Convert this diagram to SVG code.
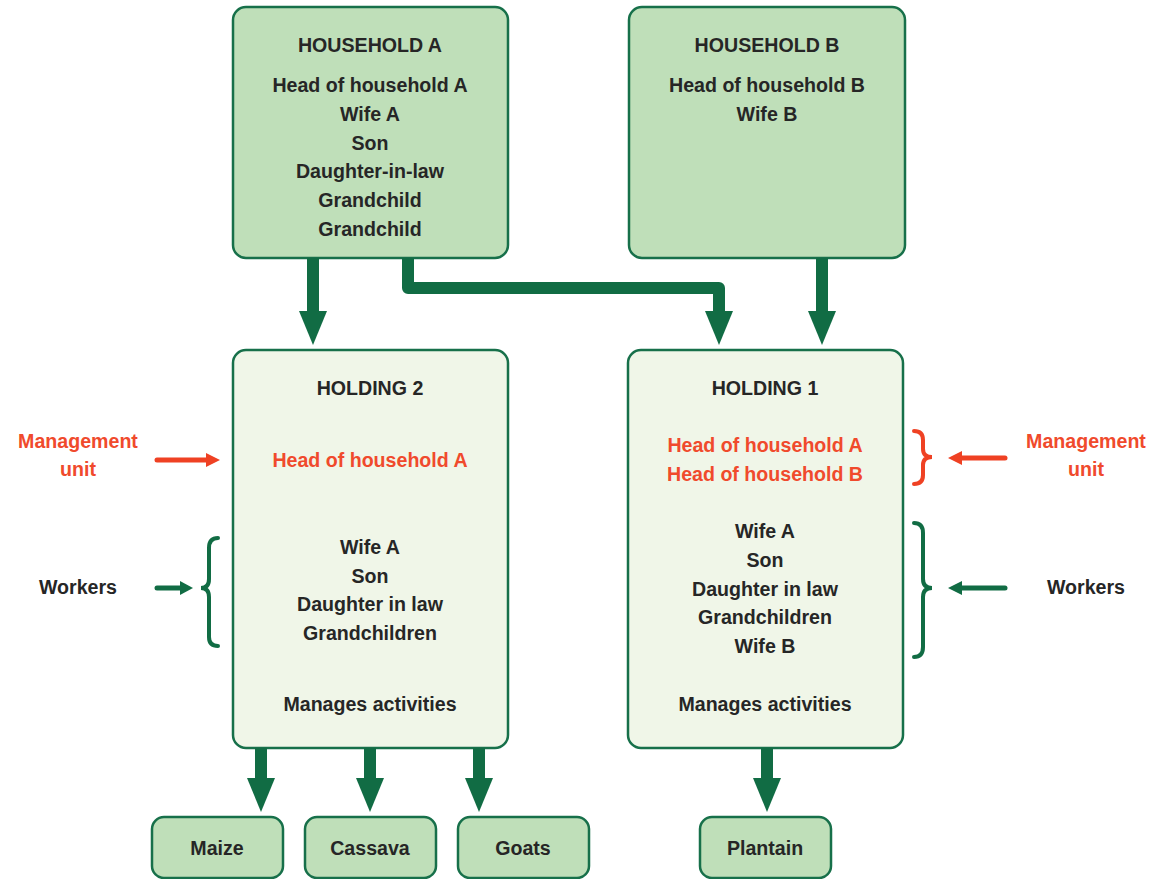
<svg xmlns="http://www.w3.org/2000/svg" width="1159" height="879" viewBox="0 0 1159 879">
<style>
.hh{fill:#bfdfb9;stroke:#17704a;stroke-width:2.5}
.hd{fill:#f0f6e8;stroke:#17704a;stroke-width:2.5}
text{font-family:"Liberation Sans",Arial,sans-serif;font-weight:bold;font-size:19.6px;text-anchor:middle;fill:#262626}
text.r{fill:#f04a2c}
.arr{fill:#116c44}
.shaft{stroke:#116c44;stroke-width:12;fill:none}
.gl{stroke:#116c44;stroke-width:5;fill:none;stroke-linecap:round}
.rl{stroke:#ef4123;stroke-width:5;fill:none;stroke-linecap:round}
.gb{stroke:#116c44;stroke-width:4;fill:none;stroke-linecap:round}
.rb{stroke:#ef4123;stroke-width:4;fill:none;stroke-linecap:round}
</style>
<rect width="1159" height="879" fill="#ffffff"/>
<g id="household-a">
<rect class="hh" x="233" y="7" width="275" height="251" rx="13"/>
<text x="370" y="52">HOUSEHOLD A</text>
<text x="370" y="92">Head of household A</text>
<text x="370" y="121">Wife A</text>
<text x="370" y="150">Son</text>
<text x="370" y="178">Daughter-in-law</text>
<text x="370" y="207">Grandchild</text>
<text x="370" y="236">Grandchild</text>
</g>
<g id="household-b">
<rect class="hh" x="629" y="7" width="276" height="251" rx="13"/>
<text x="767" y="52">HOUSEHOLD B</text>
<text x="767" y="92">Head of household B</text>
<text x="767" y="121">Wife B</text>
</g>
<g id="holding-2">
<rect class="hd" x="233" y="350" width="275" height="398" rx="13"/>
<text x="370" y="395">HOLDING 2</text>
<text class="r" x="370" y="467">Head of household A</text>
<text x="370" y="554">Wife A</text>
<text x="370" y="583">Son</text>
<text x="370" y="611">Daughter in law</text>
<text x="370" y="640">Grandchildren</text>
<text x="370" y="711">Manages activities</text>
</g>
<g id="holding-1">
<rect class="hd" x="628" y="350" width="275" height="398" rx="13"/>
<text x="765" y="395">HOLDING 1</text>
<text class="r" x="765" y="452">Head of household A</text>
<text class="r" x="765" y="481">Head of household B</text>
<text x="765" y="538">Wife A</text>
<text x="765" y="567">Son</text>
<text x="765" y="596">Daughter in law</text>
<text x="765" y="624">Grandchildren</text>
<text x="765" y="653">Wife B</text>
<text x="765" y="711">Manages activities</text>
</g>
<g id="maize">
<rect class="hh" x="152" y="817" width="131" height="61" rx="12"/>
<text x="217" y="855">Maize</text>
</g>
<g id="cassava">
<rect class="hh" x="305" y="817" width="131" height="61" rx="12"/>
<text x="370" y="855">Cassava</text>
</g>
<g id="goats">
<rect class="hh" x="458" y="817" width="131" height="61" rx="12"/>
<text x="523" y="855">Goats</text>
</g>
<g id="plantain">
<rect class="hh" x="700" y="817" width="131" height="61" rx="12"/>
<text x="765" y="855">Plantain</text>
</g>
<g id="labels">
<text class="r" x="78" y="448">Management</text>
<text class="r" x="78" y="476">unit</text>
<text x="78" y="594">Workers</text>
<text class="r" x="1086" y="448">Management</text>
<text class="r" x="1086" y="476">unit</text>
<text x="1086" y="594">Workers</text>
</g>
<g id="connectors">
<line class="shaft" x1="313" y1="258" x2="313" y2="312"/>
<polygon class="arr" points="299,311 327,311 313,345"/>
<path class="shaft" d="M408,258 V288 H719 V312" stroke-linejoin="round"/>
<polygon class="arr" points="705,311 733,311 719,345"/>
<line class="shaft" x1="822" y1="258" x2="822" y2="312"/>
<polygon class="arr" points="808,311 836,311 822,345"/>
<line class="shaft" x1="261" y1="748" x2="261" y2="779"/>
<polygon class="arr" points="247,778 275,778 261,812"/>
<line class="shaft" x1="370" y1="748" x2="370" y2="779"/>
<polygon class="arr" points="356,778 384,778 370,812"/>
<line class="shaft" x1="479" y1="748" x2="479" y2="779"/>
<polygon class="arr" points="465,778 493,778 479,812"/>
<line class="shaft" x1="767" y1="748" x2="767" y2="779"/>
<polygon class="arr" points="753,778 781,778 767,812"/>
<line class="rl" x1="157" y1="460" x2="208" y2="460"/>
<polygon points="206,453 220,460 206,467" fill="#ef4123"/>
<line class="gl" x1="157" y1="588" x2="182" y2="588"/>
<polygon class="arr" points="180,581 193,588 180,595"/>
<path class="gb" d="M218,538 Q209,538 209,548 L209,579 Q209,588 201,588 Q209,588 209,597 L209,637 Q209,646 218,646"/>
<line class="rl" x1="1005" y1="458" x2="960" y2="458"/>
<polygon points="962,451 948,458 962,465" fill="#ef4123"/>
<path class="rb" d="M914,431 Q923,431 923,440 L923,449 Q923,457 932,457 Q923,457 923,465 L923,475 Q923,484 914,484"/>
<line class="gl" x1="1005" y1="588" x2="960" y2="588"/>
<polygon class="arr" points="962,581 948,588 962,595"/>
<path class="gb" d="M914,523 Q923,523 923,533 L923,579 Q923,588 932,588 Q923,588 923,597 L923,647 Q923,657 914,657"/>
</g>
</svg>
